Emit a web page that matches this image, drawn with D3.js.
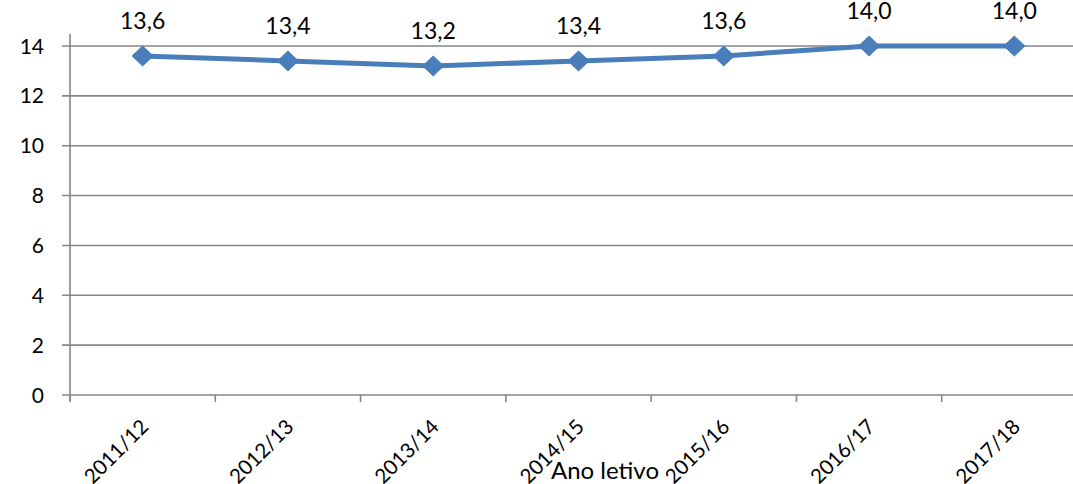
<!DOCTYPE html>
<html><head><meta charset="utf-8">
<script src="https://cdn.jsdelivr.net/npm/d3@7"></script>
<style>body{margin:0;background:#fff}svg{display:block}text{font-family:Lato,"Open Sans",sans-serif}</style>
</head><body>
<svg id="c" width="1073" height="484"></svg>
<script>
const categories = ["2011/12","2012/13","2013/14","2014/15","2015/16","2016/17","2017/18"];
const values = [13.6,13.4,13.2,13.4,13.6,14.0,14.0];
const yTicks = [0,2,4,6,8,10,12,14];
const xTitle = "Ano letivo";

const svg = d3.select("#c");
const x0 = 70, x1 = 1087;
const x = d3.scalePoint().domain(categories).range([x0, x1]).padding(0.5);
const y = d3.scaleLinear().domain([0,14]).range([395,46]);
const grey = "#868686";

// gridlines
svg.append("g").selectAll("line").data(yTicks).join("line")
  .attr("x1", x0-8).attr("x2", 1073).attr("y1", d=>y(d)).attr("y2", d=>y(d))
  .attr("stroke", grey).attr("stroke-width", 1.6);
// y axis line
svg.append("line").attr("x1",x0).attr("x2",x0).attr("y1",y(14)-12).attr("y2",y(0)+6)
  .attr("stroke",grey).attr("stroke-width",1.6);
// y labels
svg.append("g").selectAll("text").data(yTicks).join("text")
  .attr("x", 44).attr("y", d=>y(d)).attr("dy","0.36em").attr("text-anchor","end")
  .attr("font-size",21).attr("fill","#000").text(d=>d);
// x ticks at category boundaries
const step = x.step();
const bounds = d3.range(categories.length+1).map(i => x(categories[0]) - step/2 + i*step);
svg.append("g").selectAll("line").data(bounds).join("line")
  .attr("x1",d=>d).attr("x2",d=>d).attr("y1",y(0)).attr("y2",y(0)+7)
  .attr("stroke",grey).attr("stroke-width",1.6);
// x labels rotated
svg.append("g").selectAll("text").data(categories).join("text")
  .attr("transform", d=>`translate(${x(d)+7},${y(0)+33}) rotate(-45)`)
  .attr("text-anchor","end").attr("font-size",20.5).attr("fill","#000").text(d=>d);
// axis title
svg.append("text").attr("x",605).attr("y",479).attr("text-anchor","middle")
  .attr("font-size",24).attr("fill","#000").text(xTitle);
// line
svg.append("path").datum(values)
  .attr("d", d3.line().x((d,i)=>x(categories[i])).y(d=>y(d)))
  .attr("fill","none").attr("stroke","#4a7ebb").attr("stroke-width",5).attr("stroke-linejoin","round");
// markers
svg.append("g").selectAll("path").data(values).join("path")
  .attr("transform",(d,i)=>`translate(${x(categories[i])},${y(d)})`)
  .attr("d","M0,-10L10.5,0L0,10L-10.5,0Z").attr("fill","#4a7ebb").attr("stroke","#4a7ebb").attr("stroke-width",1);
// data labels
svg.append("g").selectAll("text").data(values).join("text")
  .attr("x",(d,i)=>x(categories[i])).attr("y",d=>y(d)-27)
  .attr("text-anchor","middle").attr("font-size",23).attr("fill","#000")
  .text(d=>d3.format(".1f")(d).replace(".",","));
</script>
</body></html>
